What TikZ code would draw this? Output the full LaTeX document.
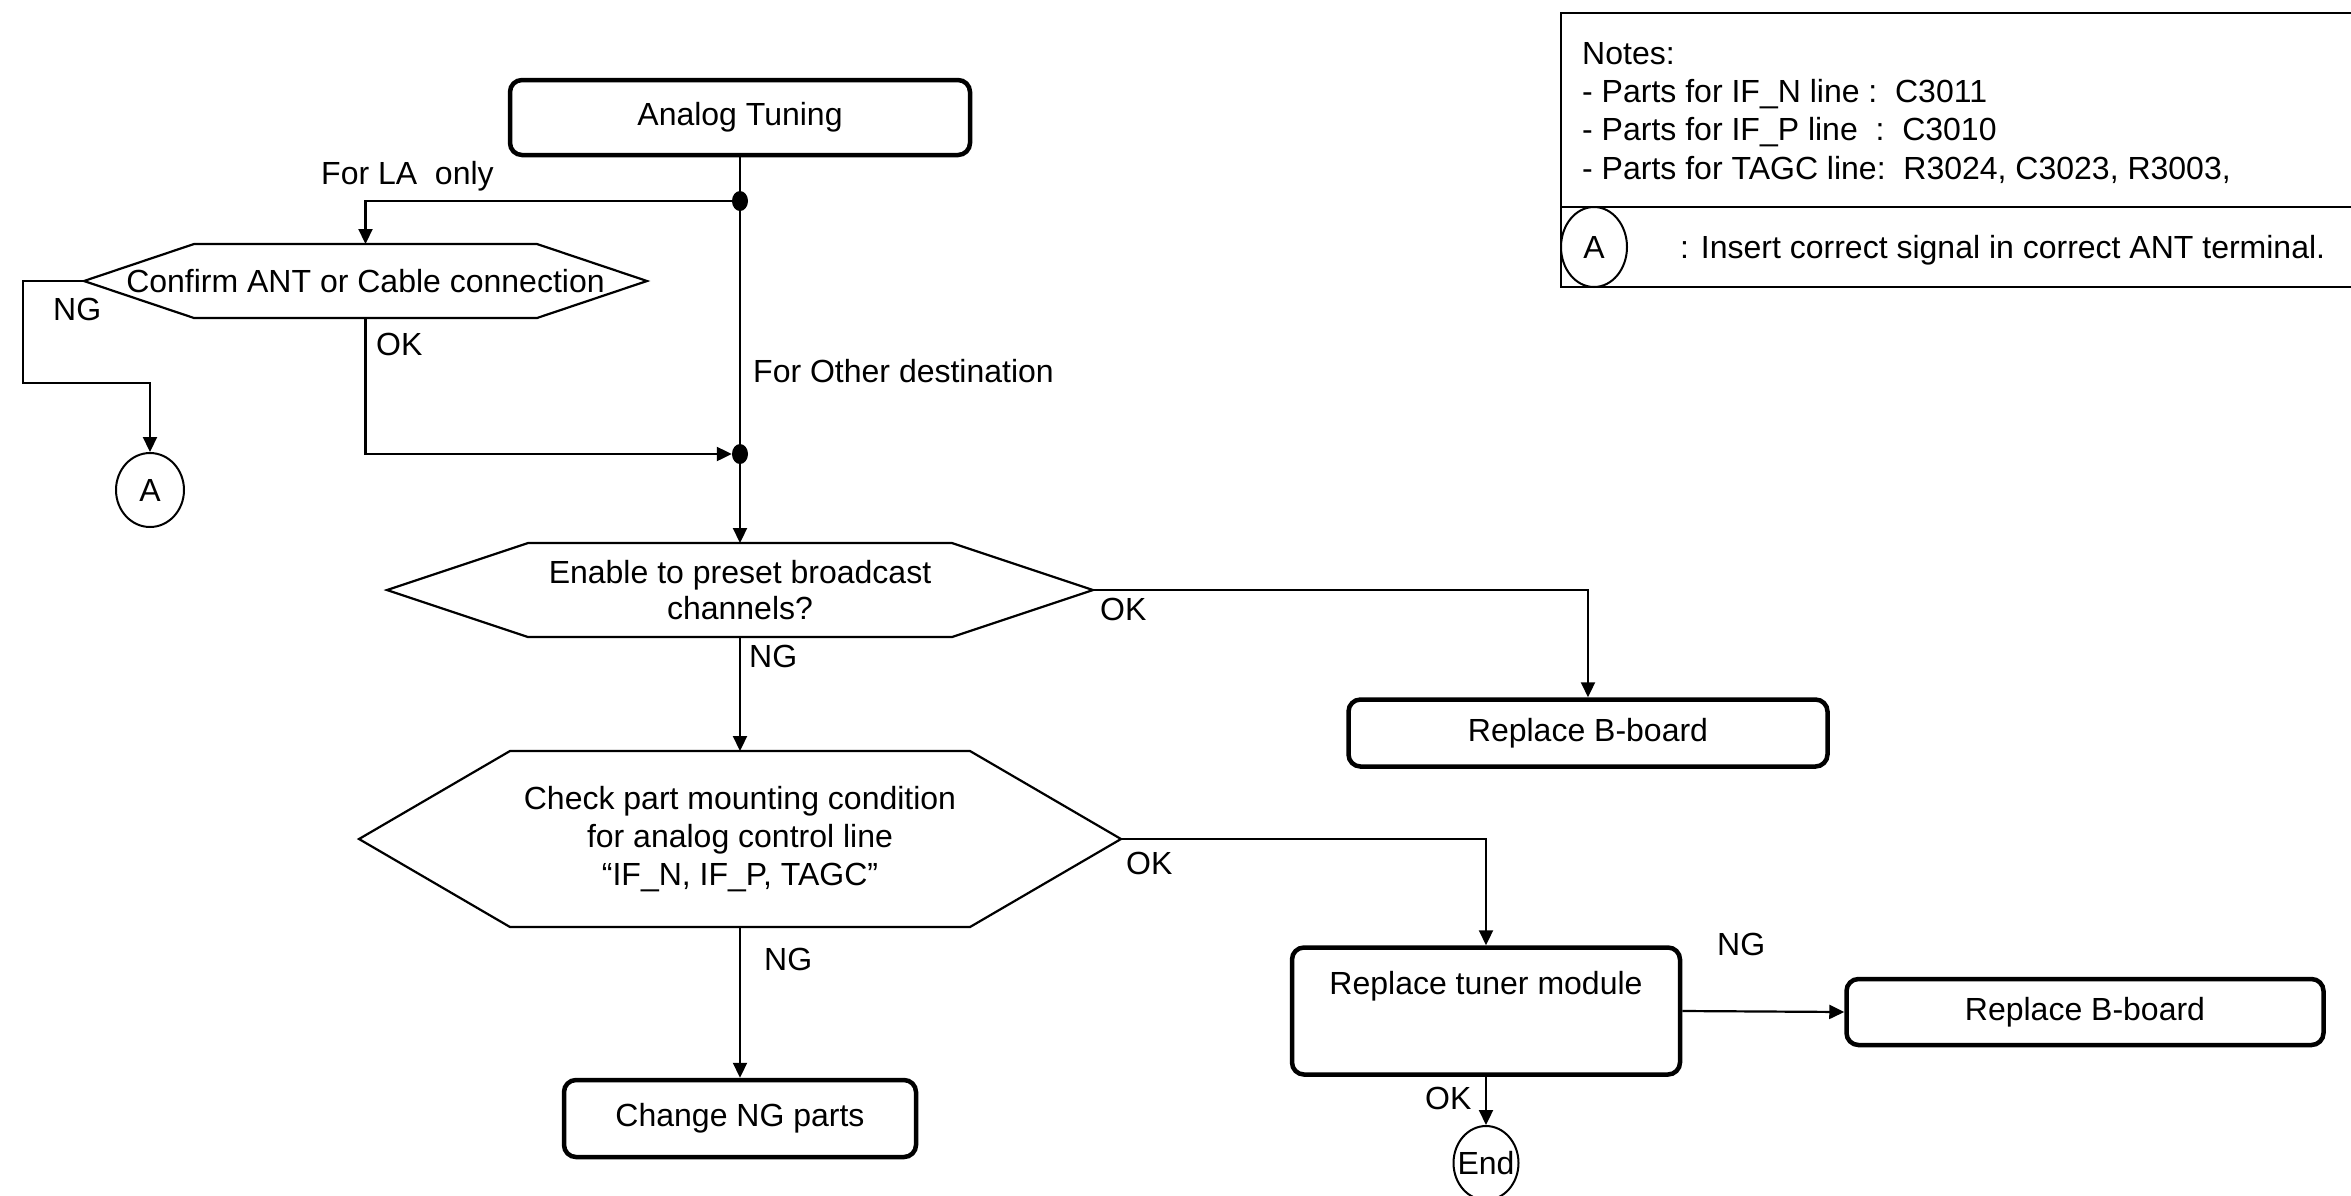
\documentclass[tikz,border=0pt]{standalone}
\usepackage{fontspec}
\setmainfont{Liberation Sans}
\usetikzlibrary{arrows.meta,shapes.geometric}
\tikzset{
  conn/.style={line width=2.2pt},
  arr/.style={conn,-{Triangle[length=15pt,width=14pt]}},
  hexline/.style={line width=2.2pt,line join=miter},
  box/.style={draw,line width=4.5pt,rounded corners=12pt,inner sep=0pt},
  txt/.style={inner sep=0pt,align=center},
  lbl/.style={inner sep=0pt,anchor=base west},
  dot/.style={ellipse,fill,inner sep=0pt,minimum width=16pt,minimum height=20pt},
  circ/.style={ellipse,draw,line width=2pt,inner sep=0pt},
}
\newcommand{\hexnode}[7]{%
  \draw[hexline] ({#2-#4},#3) coordinate (#1-l) -- ({#2-#4+#6},{#3-#5}) -- ({#2+#4-#6},{#3-#5})
    -- ({#2+#4},#3) coordinate (#1-r) -- ({#2+#4-#6},{#3+#5}) -- ({#2-#4+#6},{#3+#5}) -- cycle;
  \coordinate (#1-t) at (#2,{#3-#5});
  \coordinate (#1-b) at (#2,{#3+#5});
  \node[txt] (#1) at (#2,#3) {#7};}
\begin{document}
\begin{tikzpicture}[x=1pt,y=-1pt,font=\fontsize{32}{38}\selectfont]
\useasboundingbox (0,0) rectangle (2351,1195);

% boxes
\node[box,minimum width=460pt,minimum height=75pt] (at) at (740,117.5) {Analog Tuning};
\node[box,minimum width=479pt,minimum height=67pt] (bb1) at (1588,733) {Replace B-board};
\node[box,minimum width=388pt,minimum height=127pt] (tuner) at (1486,1011) {};
\node[lbl,anchor=base] (tunertxt) at (1486,994) {Replace tuner module};
\node[box,minimum width=477pt,minimum height=66pt] (bb2) at (2085,1012) {Replace B-board};
\node[box,minimum width=352pt,minimum height=77pt] (change) at (740,1118.5) {Change NG parts};

% hexagons
\hexnode{conf}{365.5}{281}{281.5}{37}{110}{Confirm ANT or Cable connection}
\hexnode{enable}{740}{590}{353}{47}{141}{Enable to preset broadcast\\[-2pt]channels?}
\hexnode{check}{740}{839}{381}{88}{151}{Check part mounting condition\\for analog control line\\“IF\_N, IF\_P, TAGC”}

% terminals and junctions
\node[circ,minimum width=68pt,minimum height=74pt] (A) at (150,490) {\makebox[0pt]{A}};
\node[circ,minimum width=65pt,minimum height=74pt] (end) at (1486,1163) {\makebox[0pt]{End}};
\node[dot] (j1) at (740,201) {};
\node[dot] (j2) at (740,454) {};

\draw[conn] (at.south) -- (j1.center) -- (j2.center);
\draw[arr] (j2.center) -- (enable-t);
\draw[arr] (j1.center) -| (conf-t);
\draw[arr] (conf-l) -- (23,281) -- (23,383) -| (A.north);
\draw[arr] (conf-b) |- (j2.west);
\draw[arr] (enable-r) -| (bb1.north);
\draw[arr] (enable-b) -- (check-t);
\draw[arr] (check-r) -| (tuner.north);
\draw[arr] (check-b) -- (change.north);
\draw[arr] (tuner.east) -- (bb2.west);
\draw[arr] (tuner.south) -- (end.north);

% labels
\node[lbl] (l1) at (321,184) {For LA\ \ only};
\node[lbl] (l2) at (53,320) {NG};
\node[lbl] (l3) at (376,355) {OK};
\node[lbl] (l4) at (753,382) {For Other destination};
\node[lbl] (l5) at (1100,620) {OK};
\node[lbl] (l6) at (749,667) {NG};
\node[lbl] (l7) at (1126,874) {OK};
\node[lbl] (l8) at (764,970) {NG};
\node[lbl] (l9) at (1717,955) {NG};
\node[lbl] (l10) at (1425,1109) {OK};

% notes box
\draw[conn] (2352,13) -- (1561,13) -- (1561,287) -- (2352,287);
\draw[conn] (1561,207) -- (2352,207);
\node[lbl] (n1) at (1582,64) {Notes:};
\node[lbl] (n2) at (1582,102) {- Parts for IF\_N line :\ \ C3011};
\node[lbl] (n3) at (1582,140) {- Parts for IF\_P line\ \ :\ \ C3010};
\node[lbl] (n4) at (1582,179) {- Parts for TAGC line:\ \ R3024, C3023, R3003,};
\node[circ,minimum width=66pt,minimum height=80pt] (nA) at (1594,247) {\makebox[0pt]{A}};
\node[lbl] (n5) at (1680,258) {: Insert correct signal in correct ANT terminal.};
\end{tikzpicture}
\end{document}
